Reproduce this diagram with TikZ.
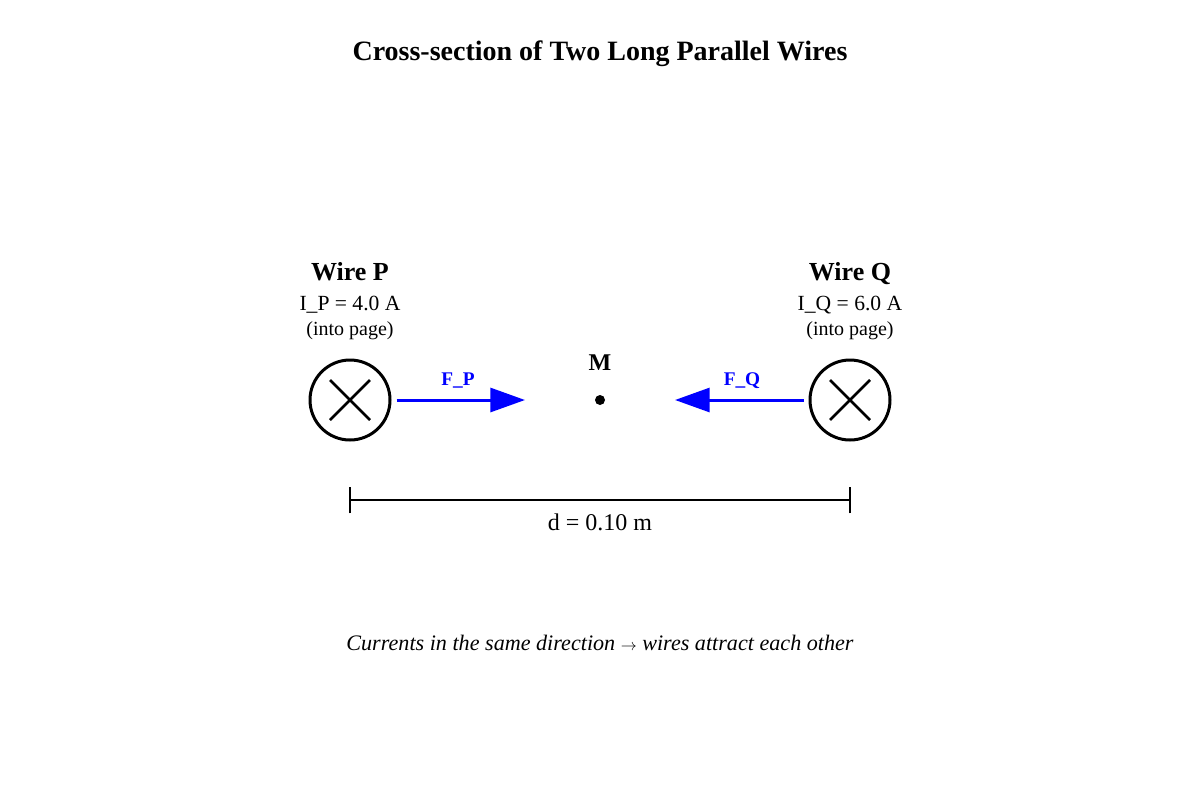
\documentclass[tikz,border=0pt]{standalone}
\usepackage{fontspec}
\setmainfont{Liberation Serif}
\usepackage{xcolor}
\definecolor{forceblue}{rgb}{0,0,1}
\usetikzlibrary{arrows.meta}
\usetikzlibrary{positioning}

\begin{document}
\begin{tikzpicture}[x=0.75pt,y=-0.75pt,
  wire/.style={draw, circle, line width=2.25pt, minimum size=60pt, inner sep=0pt,
    path picture={\draw[line width=1.9pt] ([shift={(-20,-20)}]path picture bounding box.center) -- ([shift={(20,20)}]path picture bounding box.center);
                  \draw[line width=1.9pt] ([shift={(-20,20)}]path picture bounding box.center) -- ([shift={(20,-20)}]path picture bounding box.center);}},
  force/.style={forceblue, line width=2.25pt, -{Triangle[length=26pt,width=18pt]}},
  forcelabel/.style={forceblue, anchor=base, font=\fontsize{14.5}{17}\selectfont\bfseries},
  txt/.style={anchor=base},
  every node/.style={inner sep=0pt}]

\useasboundingbox (0,0) rectangle (1200,800);

% title
\node[txt] (title) at (600,60) {\fontsize{21}{25}\selectfont\bfseries Cross-section of Two Long Parallel Wires};

% Wire P
\node[wire] (P) at (350,400) {};
\node[txt] (Pname) at (350,280) {\fontsize{19.5}{23}\selectfont\bfseries Wire P};
\node[txt] (Pcur) at (350,310) {\fontsize{16.2}{20}\selectfont I\_P = 4.0 A};
\node[txt] (Pdir) at (350,335) {\fontsize{15}{18}\selectfont (into page)};

% Wire Q
\node[wire] (Q) at (850,400) {};
\node[txt] (Qname) at (850,280) {\fontsize{19.5}{23}\selectfont\bfseries Wire Q};
\node[txt] (Qcur) at (850,310) {\fontsize{16.2}{20}\selectfont I\_Q = 6.0 A};
\node[txt] (Qdir) at (850,335) {\fontsize{15}{18}\selectfont (into page)};

% midpoint
\node[circle, fill=black, minimum size=7.5pt] (M) at (600,400) {};
\node[txt] (Mname) at (600,370) {\fontsize{18}{21}\selectfont\bfseries M};

% forces
\coordinate (FPend) at (525,400);
\coordinate (FQend) at (675,400);
\draw[force, shorten <=3.75pt] (P.east) -- (FPend);
\draw[force, shorten <=3.75pt] (Q.west) -- (FQend);
\node[forcelabel] (FP) at (458,385) {F\_P};
\node[forcelabel] (FQ) at (742,385) {F\_Q};

% distance
\coordinate (dP) at (350,500);
\coordinate (dQ) at (850,500);
\draw[line width=1.5pt] (dP) -- (dQ);
\draw[line width=1.5pt] ([yshift=-10]dP) -- ([yshift=10]dP);
\draw[line width=1.5pt] ([yshift=-10]dQ) -- ([yshift=10]dQ);
\node[txt] (d) at (600,530) {\fontsize{18}{21}\selectfont d = 0.10 m};

% note
\node[txt] (note) at (600,650) {\fontsize{16.6}{20}\selectfont\itshape Currents in the same direction {\upshape\fontsize{12}{14}\selectfont$\rightarrow$} wires attract each other};

\end{tikzpicture}
\end{document}
